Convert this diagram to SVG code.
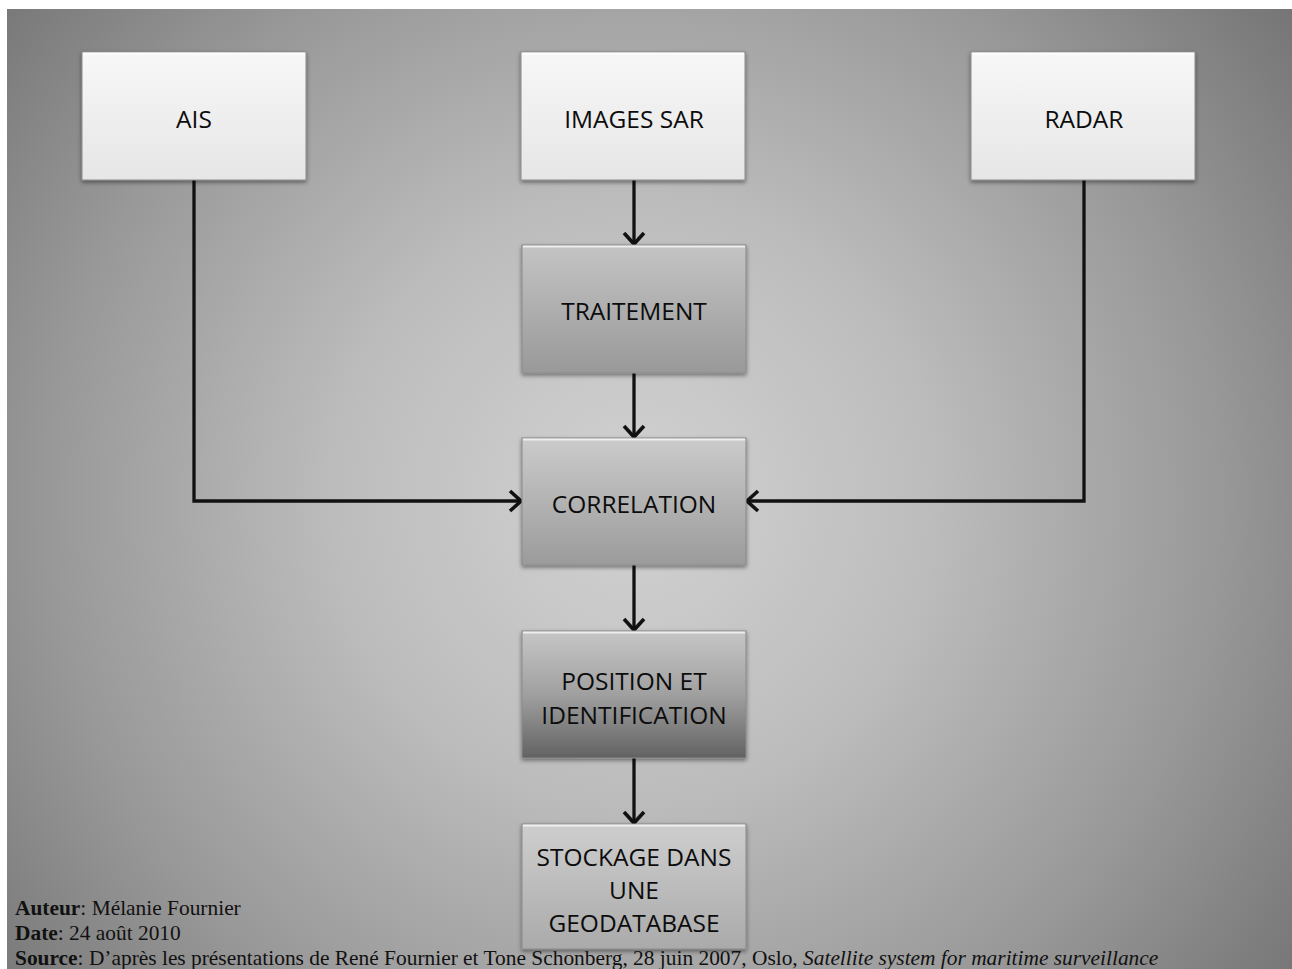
<svg xmlns="http://www.w3.org/2000/svg" width="1292" height="969" viewBox="0 0 1292 969">
<defs>
<radialGradient id="bg" cx="634" cy="500" r="830" gradientUnits="userSpaceOnUse">
<stop offset="0" stop-color="#d2d2d2"/>
<stop offset="0.35" stop-color="#bdbdbd"/>
<stop offset="0.7" stop-color="#999999"/>
<stop offset="1" stop-color="#747474"/>
</radialGradient>
<linearGradient id="gWhite" x1="0" y1="0" x2="0" y2="1">
<stop offset="0" stop-color="#f7f7f7"/>
<stop offset="1" stop-color="#e6e6e6"/>
</linearGradient>
<linearGradient id="gGray1" x1="0" y1="0" x2="0" y2="1">
<stop offset="0" stop-color="#c4c4c4"/>
<stop offset="1" stop-color="#999999"/>
</linearGradient>
<linearGradient id="gGray2" x1="0" y1="0" x2="0" y2="1">
<stop offset="0" stop-color="#cbcbcb"/>
<stop offset="1" stop-color="#9b9b9b"/>
</linearGradient>
<linearGradient id="gGray3" x1="0" y1="0" x2="0" y2="1">
<stop offset="0" stop-color="#c6c6c6"/>
<stop offset="0.5" stop-color="#a0a0a0"/>
<stop offset="1" stop-color="#626262"/>
</linearGradient>
<linearGradient id="gGray4" x1="0" y1="0" x2="0" y2="1">
<stop offset="0" stop-color="#cecece"/>
<stop offset="1" stop-color="#aaaaaa"/>
</linearGradient>
<filter id="sh" x="-10%" y="-10%" width="120%" height="125%">
<feDropShadow dx="0" dy="2" stdDeviation="2" flood-color="#000" flood-opacity="0.45"/>
</filter>
<marker id="arr" markerUnits="userSpaceOnUse" markerWidth="26" markerHeight="26" refX="13" refY="13" orient="auto" viewBox="0 0 26 26">
<path d="M2,3 L13,13 L2,23" fill="none" stroke="#111" stroke-width="3.6" stroke-linejoin="miter"/>
</marker>
<style>
.lbl{font-family:"Open Sans","Liberation Sans",sans-serif;font-size:24.5px;fill:#0c0c0c;text-anchor:middle}
.box{stroke:#8a8a8a;stroke-width:1}
.hl{stroke:#ffffff;stroke-opacity:0.7;stroke-width:2;fill:none}
.con{stroke:#111;stroke-width:3.3;fill:none}
.ft{font-family:"Liberation Serif","Times New Roman",serif;font-size:21.4px;fill:#111}
</style>
</defs>
<rect x="0" y="0" width="1292" height="969" fill="#ffffff"/>
<rect x="7" y="9" width="1285" height="960" fill="url(#bg)"/>

<g id="connectors">
<line class="con" x1="634" y1="180" x2="634" y2="244" marker-end="url(#arr)"/>
<line class="con" x1="634" y1="373" x2="634" y2="437" marker-end="url(#arr)"/>
<line class="con" x1="634" y1="565" x2="634" y2="630" marker-end="url(#arr)"/>
<line class="con" x1="634" y1="758" x2="634" y2="823" marker-end="url(#arr)"/>
<polyline class="con" points="194,180 194,501 521,501" marker-end="url(#arr)"/>
<polyline class="con" points="1084,180 1084,501 747,501" marker-end="url(#arr)"/>
</g>

<g id="ais">
<rect class="box" x="82" y="52" width="224" height="128" fill="url(#gWhite)" filter="url(#sh)"/>
<line class="hl" x1="83" y1="53.5" x2="305" y2="53.5"/>
<text class="lbl" x="194" y="128">AIS</text>
</g>
<g id="images-sar">
<rect class="box" x="521" y="52" width="224" height="128" fill="url(#gWhite)" filter="url(#sh)"/>
<line class="hl" x1="522" y1="53.5" x2="744" y2="53.5"/>
<text class="lbl" x="634" y="128">IMAGES SAR</text>
</g>
<g id="radar">
<rect class="box" x="971" y="52" width="224" height="128" fill="url(#gWhite)" filter="url(#sh)"/>
<line class="hl" x1="972" y1="53.5" x2="1194" y2="53.5"/>
<text class="lbl" x="1084" y="128">RADAR</text>
</g>
<g id="traitement">
<rect class="box" x="522" y="245" width="224" height="128" fill="url(#gGray1)" filter="url(#sh)"/>
<line class="hl" x1="523" y1="246.5" x2="745" y2="246.5"/>
<text class="lbl" x="634" y="320">TRAITEMENT</text>
</g>
<g id="correlation">
<rect class="box" x="522" y="438" width="224" height="127" fill="url(#gGray2)" filter="url(#sh)"/>
<line class="hl" x1="523" y1="439.5" x2="745" y2="439.5"/>
<text class="lbl" x="634" y="513">CORRELATION</text>
</g>
<g id="position">
<rect class="box" x="522" y="631" width="224" height="127" fill="url(#gGray3)" filter="url(#sh)"/>
<line class="hl" x1="523" y1="632.5" x2="745" y2="632.5"/>
<text class="lbl" x="634" y="690">POSITION ET</text>
<text class="lbl" x="634" y="724">IDENTIFICATION</text>
</g>
<g id="stockage">
<rect class="box" x="522" y="824" width="224" height="125" fill="url(#gGray4)" filter="url(#sh)"/>
<line class="hl" x1="523" y1="825.5" x2="745" y2="825.5"/>
<text class="lbl" x="634" y="866">STOCKAGE DANS</text>
<text class="lbl" x="634" y="899">UNE</text>
<text class="lbl" x="634" y="932">GEODATABASE</text>
</g>

<g id="footer">
<text class="ft" x="15" y="915"><tspan font-weight="bold">Auteur</tspan>: Mélanie Fournier</text>
<text class="ft" x="15" y="940"><tspan font-weight="bold">Date</tspan>: 24 août 2010</text>
<text class="ft" x="15" y="965"><tspan font-weight="bold">Source</tspan>: D’après les présentations de René Fournier et Tone Schonberg, 28 juin 2007, Oslo, <tspan font-style="italic">Satellite system for maritime surveillance</tspan></text>
</g>
</svg>
